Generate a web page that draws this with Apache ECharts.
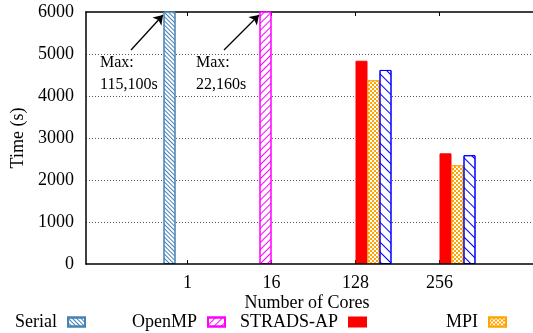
<!DOCTYPE html>
<html><head><meta charset="utf-8">
<script src="https://cdn.jsdelivr.net/npm/echarts@6/dist/echarts.min.js"></script>
<style>html,body{margin:0;padding:0;background:#fff;overflow:hidden}#c{width:533px;height:333px}</style>
</head><body><div id="c"></div>
<script>
// ---- data ----
const categories = ['1', '16', '128', '256'];
const serial   = [115100, null, null, null];
const openmp   = [null, 22160, null, null];
const strads   = [null, null, 4840, 2635];
const mpi      = [null, null, 4375, 2350];
const other    = [null, null, 4620, 2590];
const yMin = 0, yMax = 6000, yStep = 1000;
const legendNames = ['Serial', 'OpenMP', 'STRADS-AP', 'MPI'];
const annotations = ['Max:\n115,100s', 'Max:\n22,160s'];

// ---- styling ----
const FONT = 'Liberation Serif';
const txt = {fontFamily: FONT, fontSize: 18, color: '#000'};
function hatch(color, w, gap, rot) {
  return {symbol: 'rect', symbolSize: 1, dashArrayX: [1, 0], dashArrayY: [w, gap], rotation: rot, color: color};
}
const chart = echarts.init(document.getElementById('c'), null, {renderer: 'canvas', width: 533, height: 333});
const tickStyle = {show: true, inside: true, alignWithLabel: true, length: 4, lineStyle: {color: '#000', width: 1}};
const frameLine = {show: true, onZero: false, lineStyle: {color: '#000', width: 1.5}};
function bar(name, data, itemStyle, extra) {
  return Object.assign({name, type: 'bar', xAxisIndex: 1, yAxisIndex: 1, data, barWidth: 12, barGap: '0%', itemStyle}, extra || {});
}
const option = {
  animation: false,
  textStyle: {fontFamily: FONT},
  grid: [
    {left: 86, top: 12, right: 0, bottom: 69, outerBoundsMode: 'none', containLabel: false},
    {left: 151.5, top: 12, width: 336, bottom: 69, outerBoundsMode: 'none', containLabel: false},
    {left: 145.5, top: 12, width: 336, bottom: 69, outerBoundsMode: 'none', containLabel: false}
  ],
  xAxis: [
    {gridIndex: 0, type: 'value', min: 0, max: 1, position: 'bottom', axisLine: frameLine, axisTick: {show: false}, axisLabel: {show: false}, splitLine: {show: false},
     name: 'Number of Cores', nameLocation: 'middle', nameGap: 30, nameTextStyle: Object.assign({padding: [0, 5, 0, 0]}, txt), z: 5},
    {gridIndex: 1, type: 'category', data: categories, show: false},
    {gridIndex: 2, type: 'category', data: categories, position: 'bottom', axisLine: {show: false}, axisTick: tickStyle, axisLabel: Object.assign({margin: 10}, txt)},
    {gridIndex: 2, type: 'category', data: categories, position: 'top', axisLine: {show: false}, axisTick: tickStyle, axisLabel: {show: false}},
    {gridIndex: 0, type: 'value', min: 0, max: 1, position: 'top', axisLine: frameLine, axisTick: {show: false}, axisLabel: {show: false}, splitLine: {show: false}}
  ],
  yAxis: [
    {gridIndex: 0, type: 'value', min: yMin, max: yMax, interval: yStep, axisLine: frameLine, axisTick: {show: false},
     axisLabel: Object.assign({margin: 12, formatter: v => String(v)}, txt),
     splitLine: {show: true, showMinLine: false, showMaxLine: false, lineStyle: {type: [1, 2], color: '#555', width: 1}},
     name: 'Time (s)', nameLocation: 'middle', nameGap: 56, nameTextStyle: txt},
    {gridIndex: 1, type: 'value', min: yMin, max: yMax, show: false},
    {gridIndex: 2, type: 'value', min: yMin, max: yMax, show: false}
  ],
  legend: legendNames.map((n, i) => ({
    data: [n], right: [447, 307, 166, 26][i], top: 313, padding: 0, align: 'right', icon: 'rect',
    itemWidth: 17, itemHeight: 9, selectedMode: false,
    textStyle: Object.assign({padding: [0, 6, 0, 0]}, txt)
  })),
  series: [
    bar('Serial', serial, {color: '#fff', borderColor: '#4682b4', borderWidth: 1, decal: hatch('#4682b4', 1, 2, Math.PI / 4)}, {
      markLine: {silent: true, symbol: ['none', 'arrow'], symbolSize: 9, label: {show: false},
        lineStyle: {color: '#000', width: 1.3, type: 'solid'},
        data: [[{x: 131, y: 50}, {x: 163, y: 15}], [{x: 224, y: 50}, {x: 259, y: 15}]]}
    }),
    bar('OpenMP', openmp, {color: '#fff', borderColor: '#ff00ff', borderWidth: 1, decal: hatch('#ff00ff', 1, 4, -Math.PI / 4)}),
    bar('STRADS-AP', strads, {color: '#ff0000', borderColor: '#ff0000', borderWidth: 1}),
    bar('MPI', mpi, {color: '#ffa500', borderColor: '#ffa500', borderWidth: 1,
      decal: {symbol: 'rect', symbolSize: 1, dashArrayX: [[2, 2], [0, 2, 2, 0]], dashArrayY: [2, 0], color: '#fff'}}),
    bar('Other', other, {color: '#fff', borderColor: '#0000ff', borderWidth: 1, decal: hatch('#0000ff', 1, 5.5, Math.PI / 4)})
  ],
  graphic: annotations.map((t, i) => ({
    type: 'text', left: [100, 196][i], top: 52, z: 10,
    style: {text: t, font: '16px "Liberation Serif"', lineHeight: 22, fill: '#000'}
  }))
};
chart.setOption(option);
</script></body></html>
